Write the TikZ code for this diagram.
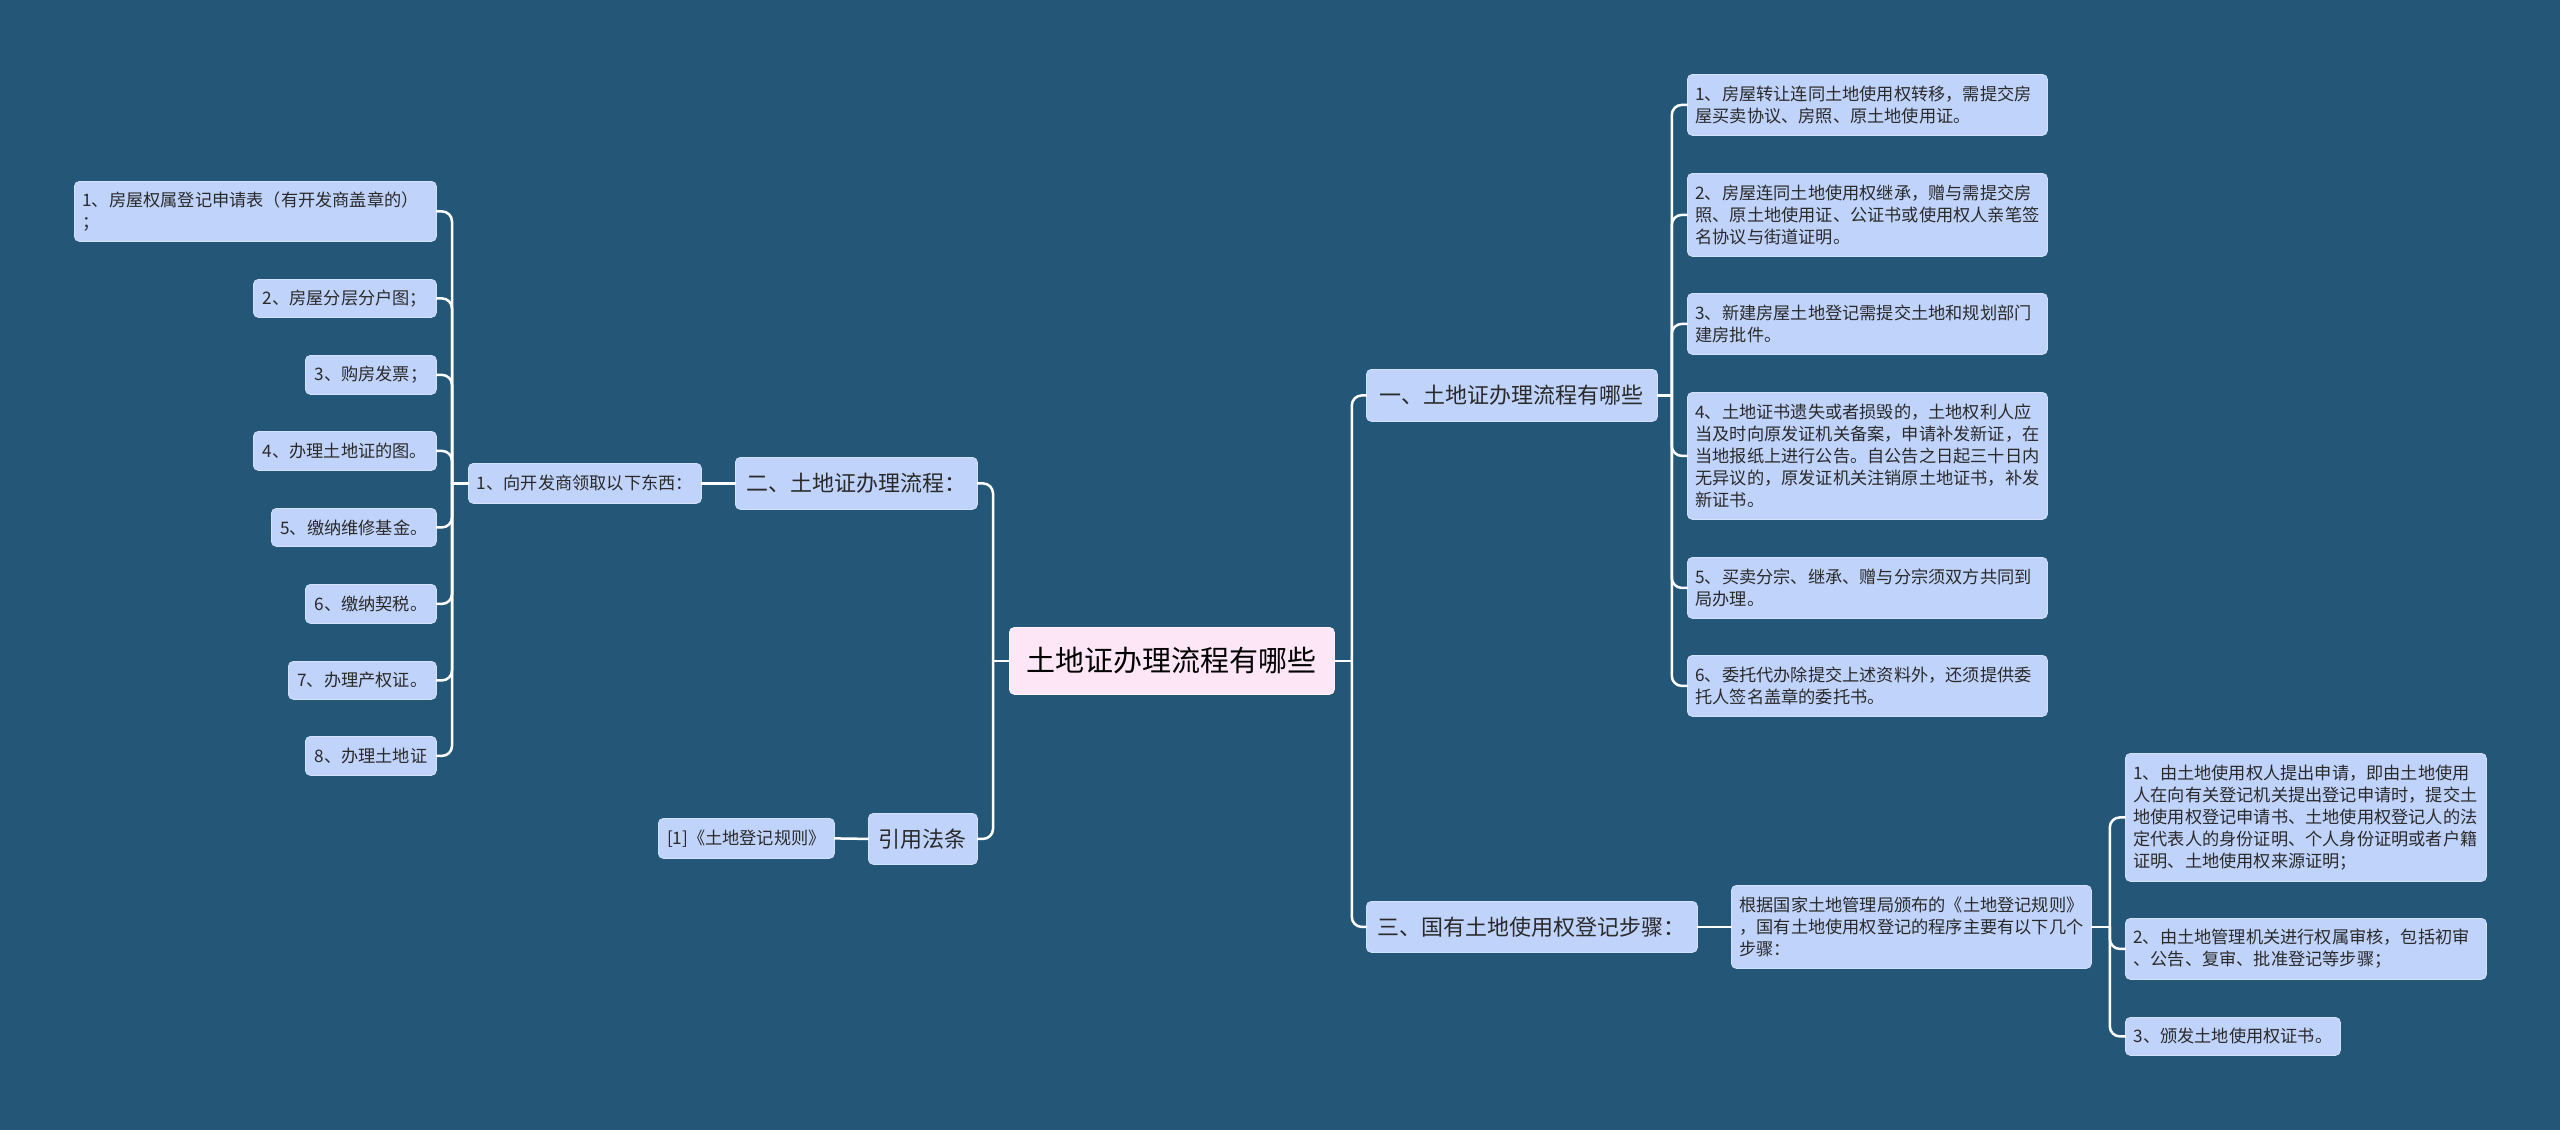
\documentclass[tikz,border=0pt]{standalone}
\usepackage{fontspec}
\setmainfont{Noto Sans CJK SC}
\usetikzlibrary{calc}
\definecolor{bg}{HTML}{245777}
\definecolor{boxfill}{HTML}{C0D3FA}
\definecolor{boxedge}{HTML}{D4E1FC}
\definecolor{rootfill}{HTML}{FDE6F6}
\definecolor{rootedge}{HTML}{FFF2FB}
\definecolor{txt}{HTML}{2A2A2A}
\begin{document}
\begin{tikzpicture}[x=1pt,y=-1pt,
  base/.style={anchor=north west, rounded corners=5pt, fill=boxfill, draw=boxedge, line width=0.8pt, text=txt, align=left, inner xsep=8pt, inner ysep=0pt},
  small/.style={base, font=\fontsize{17.2}{22}\selectfont},
  mid/.style={base, font=\fontsize{22}{26}\selectfont},
  rootbox/.style={base, fill=rootfill, draw=rootedge, text=black, font=\fontsize{29}{34}\selectfont},
  conn/.style={draw=white, line width=2.5pt, rounded corners=10pt, line cap=round}]
\fill[bg] (0,0) rectangle (2560,1130);
\useasboundingbox (0,0) rectangle (2560,1130);

% root
\node[rootbox, minimum width=325pt, minimum height=67pt] (root) at (1009,627) {土地证办理流程有哪些};

% left side
\node[mid, minimum width=242pt, minimum height=52pt] (n2) at (735,457) {二、土地证办理流程：};
\node[mid, minimum width=109pt, minimum height=51pt] (n4) at (868,813) {引用法条};
\node[small, minimum width=233pt, minimum height=40pt] (a1) at (468,463) {1、向开发商领取以下东西：};
\node[small, minimum width=176pt, minimum height=40pt] (ref) at (658,818) {[1]《土地登记规则》};

\node[small, text width=346pt, minimum height=60pt] (l1) at (74,181) {1、房屋权属登记申请表（有开发商盖章的）\\；};
\node[small, minimum width=183pt, minimum height=38pt] (l2) at (253,279) {2、房屋分层分户图；};
\node[small, minimum width=131pt, minimum height=39pt] (l3) at (305,355) {3、购房发票；};
\node[small, minimum width=183pt, minimum height=39pt] (l4) at (253,431) {4、办理土地证的图。};
\node[small, minimum width=165pt, minimum height=38pt] (l5) at (271,508) {5、缴纳维修基金。};
\node[small, minimum width=131pt, minimum height=39pt] (l6) at (305,584) {6、缴纳契税。};
\node[small, minimum width=148pt, minimum height=38pt] (l7) at (288,661) {7、办理产权证。};
\node[small, minimum width=131pt, minimum height=39pt] (l8) at (305,736) {8、办理土地证};

% right side
\node[mid, minimum width=291pt, minimum height=52pt] (n1) at (1366,369) {一、土地证办理流程有哪些};
\node[mid, minimum width=331pt, minimum height=51pt] (n3) at (1366,901) {三、国有土地使用权登记步骤：};

\node[small, text width=344pt, minimum height=61pt] (r1) at (1687,74) {1、房屋转让连同土地使用权转移，需提交房\\屋买卖协议、房照、原土地使用证。};
\node[small, text width=344pt, minimum height=83pt] (r2) at (1687,173) {2、房屋连同土地使用权继承，赠与需提交房\\照、原土地使用证、公证书或使用权人亲笔签\\名协议与街道证明。};
\node[small, text width=344pt, minimum height=61pt] (r3) at (1687,293) {3、新建房屋土地登记需提交土地和规划部门\\建房批件。};
\node[small, text width=344pt, minimum height=127pt] (r4) at (1687,392) {4、土地证书遗失或者损毁的，土地权利人应\\当及时向原发证机关备案，申请补发新证，在\\当地报纸上进行公告。自公告之日起三十日内\\无异议的，原发证机关注销原土地证书，补发\\新证书。};
\node[small, text width=344pt, minimum height=61pt] (r5) at (1687,557) {5、买卖分宗、继承、赠与分宗须双方共同到\\局办理。};
\node[small, text width=344pt, minimum height=61pt] (r6) at (1687,655) {6、委托代办除提交上述资料外，还须提供委\\托人签名盖章的委托书。};

\node[small, text width=344pt, minimum height=83pt] (g) at (1731,885) {根据国家土地管理局颁布的《土地登记规则》\\，国有土地使用权登记的程序主要有以下几个\\步骤：};
\node[small, text width=345pt, minimum height=128pt] (s1) at (2125,753) {1、由土地使用权人提出申请，即由土地使用\\人在向有关登记机关提出登记申请时，提交土\\地使用权登记申请书、土地使用权登记人的法\\定代表人的身份证明、个人身份证明或者户籍\\证明、土地使用权来源证明；};
\node[small, text width=345pt, minimum height=61pt] (s2) at (2125,918) {2、由土地管理机关进行权属审核，包括初审\\、公告、复审、批准登记等步骤；};
\node[small, minimum width=215pt, minimum height=38pt] (s3) at (2125,1017) {3、颁发土地使用权证书。};

% connectors: root left
\draw[conn] (root.west) -- ++(-16,0);
\foreach \c in {n2,n4} \draw[conn] ($(root.west)+(-16,0)$) |- (\c.east);
\draw[conn] (n2.west) -- (a1.east);
\draw[conn] (n4.west) -- (ref.east);
\draw[conn] (a1.west) -- ++(-16,0);
\foreach \c in {l1,l2,l3,l4,l5,l6,l7,l8} \draw[conn] ($(a1.west)+(-16,0)$) |- (\c.east);

% root right
\draw[conn] (root.east) -- ++(17,0);
\foreach \c in {n1,n3} \draw[conn] ($(root.east)+(17,0)$) |- (\c.west);
\draw[conn] (n1.east) -- ++(14,0);
\foreach \c in {r1,r2,r3,r4,r5,r6} \draw[conn] ($(n1.east)+(14,0)$) |- (\c.west);
\draw[conn] (n3.east) -- (g.west);
\draw[conn] (g.east) -- ++(18,0);
\foreach \c in {s1,s2,s3} \draw[conn] ($(g.east)+(18,0)$) |- (\c.west);
\end{tikzpicture}
\end{document}
